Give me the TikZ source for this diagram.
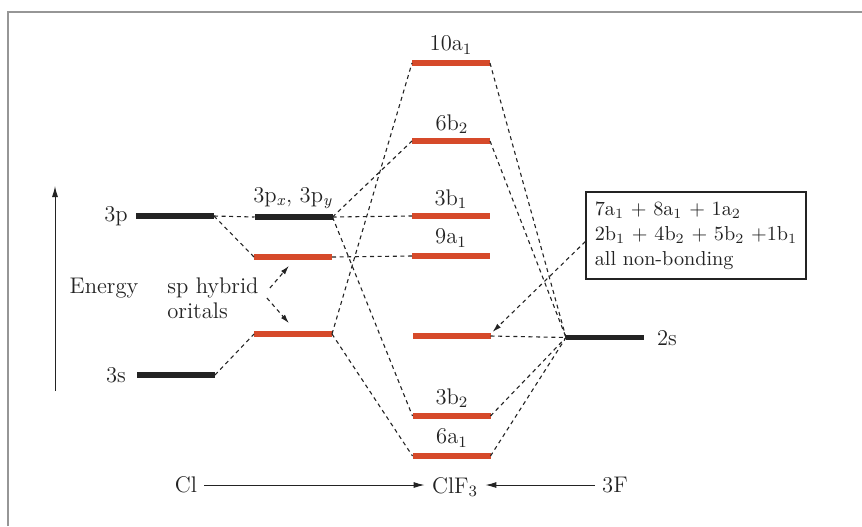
\documentclass[tikz,border=0pt]{standalone}
\usepackage{fontspec}
\usetikzlibrary{arrows.meta,calc}
\definecolor{mored}{RGB}{214,74,42}
\definecolor{mobk}{RGB}{35,35,35}
\definecolor{framegray}{RGB}{150,150,150}
\begin{document}
\begin{tikzpicture}[x=0.5pt,y=-0.5pt,
  bar/.style={minimum width=39pt,minimum height=2.8pt,inner sep=0pt,outer sep=0pt},
  redbar/.style={bar,fill=mored},
  blkbar/.style={bar,fill=mobk},
  conn/.style={draw=mobk,line width=0.55pt,dash pattern=on 2pt off 1.8pt},
  lbl/.style={font=\fontsize{11.3}{12.5}\selectfont,inner sep=1pt,text=mobk},
  boxtxt/.style={font=\fontsize{10.1}{12.5}\selectfont,text=mobk},
  tip/.style={-{Latex[length=4.5pt,width=2.6pt]}},
  solidarrow/.style={draw=mobk,line width=0.5pt,-{Latex[length=5.5pt,width=3pt]}}]
\useasboundingbox (0,0) rectangle (862,526);
\draw[framegray,line width=0.8pt] (8,526) -- (8,12) -- (862,12);

% levels
\node[blkbar] (p3) at (175,216) {};
\node[blkbar] (s3) at (176,375) {};
\node[blkbar] (pxy) at (293.5,217) {};
\node[redbar] (spu) at (293,257) {};
\node[redbar] (spl) at (293,334) {};
\node[redbar] (a10) at (451,63) {};
\node[redbar] (b6) at (451,141) {};
\node[redbar] (b31) at (451,216) {};
\node[redbar] (a9) at (451,256) {};
\node[redbar] (nb) at (451.5,336) {};
\node[redbar] (b32) at (451.5,416) {};
\node[redbar] (a6) at (451.5,456) {};
\node[blkbar] (f2s) at (605,337.5) {};

% labels
\node[lbl] (l3p) at (116,216) {3p};
\node[lbl] (l3s) at (116,375) {3s};
\node[lbl] (lpxy) at (293,198) {3p\textsubscript{\textit{x}}, 3p\textsubscript{\textit{y}}};
\node[lbl] (la10) at (451,45) {10a\textsubscript{1}};
\node[lbl] (lb6) at (452,124) {6b\textsubscript{2}};
\node[lbl] (lb31) at (451,199) {3b\textsubscript{1}};
\node[lbl] (la9) at (451,238) {9a\textsubscript{1}};
\node[lbl] (lb32) at (452,398) {3b\textsubscript{2}};
\node[lbl] (la6) at (452,438) {6a\textsubscript{1}};
\node[lbl] (l2s) at (667,338) {2s};
\node[lbl] (len) at (104,288) {Energy};
\node[lbl,align=left,anchor=west] (sph) at (165,298) {sp hybrid\\oritals};

% connectors
\draw[conn] (p3.east) -- (pxy.west);
\draw[conn] (p3.east) -- (spu.west);
\draw[conn] (s3.east) -- (spl.west);
\draw[conn] (pxy.east) -- (b31.west);
\draw[conn] (pxy.east) -- (b6.west);
\draw[conn] (pxy.east) -- (b32.west);
\draw[conn] (spu.east) -- (a9.west);
\draw[conn] (spl.east) -- (a10.west);
\draw[conn] (spl.east) -- (a6.west);
\draw[conn] (a10.east) -- (f2s.west);
\draw[conn] (b6.east) -- (f2s.west);
\draw[conn] (nb.east) -- (f2s.west);
\draw[conn] (b32.east) -- (f2s.west);
\draw[conn] (a6.east) -- (f2s.west);

% sp hybrid arrows
\draw[conn,tip] ($(sph.east)+(9,-10)$) -- ($(spu.south)+(-4,6)$);
\draw[conn,tip] ($(sph.east)+(6,0)$) -- ($(spl.north)+(-4,-8)$);

% box
\node[draw=mobk,line width=0.6pt,minimum width=110pt,minimum height=43.5pt,
      align=left,boxtxt,inner sep=3pt] (box) at (696,235.5)
  {7a\textsubscript{1} + 8a\textsubscript{1} + 1a\textsubscript{2}\\
   2b\textsubscript{1} + 4b\textsubscript{2} + 5b\textsubscript{2} +1b\textsubscript{1}\\
   all non-bonding};
\draw[conn,tip] ($(box.west)+(0,6)$) -- ($(nb.east)+(2,-4)$);

% energy axis
\coordinate (enbot) at (55,391);
\coordinate (entop) at (55,186);
\draw[solidarrow] (enbot) -- (entop);

% bottom row
\node[lbl,inner sep=3.5pt] (cl) at (186,485) {Cl};
\node[lbl,inner sep=3.5pt] (clf) at (455,487) {ClF\textsubscript{3}};
\node[lbl,inner sep=3.5pt] (f3) at (615,485) {3F};
\draw[solidarrow] (cl.east) -- (cl.east -| clf.west);
\draw[solidarrow] (f3.west) -- (f3.west -| clf.east);
\end{tikzpicture}
\end{document}
